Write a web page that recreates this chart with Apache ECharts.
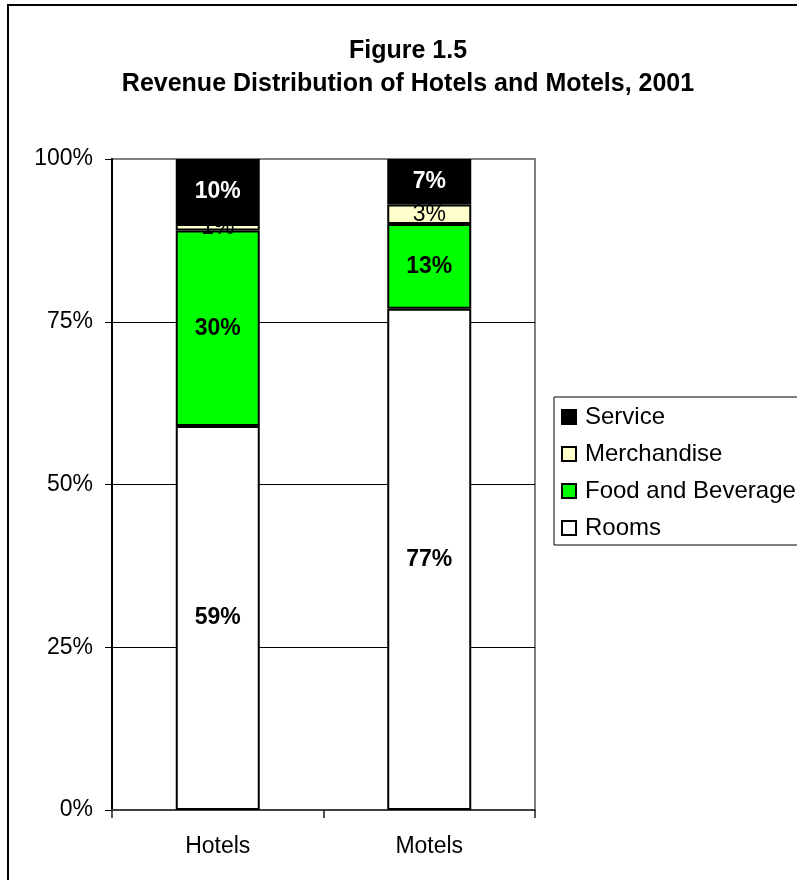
<!DOCTYPE html>
<html>
<head>
<meta charset="utf-8">
<script src="https://cdn.jsdelivr.net/npm/echarts@6/dist/echarts.min.js"></script>
<style>
  html, body { margin: 0; padding: 0; background: #fff; }
  #chart { width: 797px; height: 880px; }
</style>
</head>
<body>
<div id="chart"></div>
<script>
// Revenue shares (%) of hotels and motels by source, 2001
const categories = ['Hotels', 'Motels'];
const rooms = [59, 77];
const foodAndBeverage = [30, 13];
const merchandise = [1, 3];
const service = [10, 7];
const yTicks = [0, 25, 50, 75, 100];
const legendOrder = ['Service', 'Merchandise', 'Food and Beverage', 'Rooms'];

const FONT = '"Liberation Sans", Arial, sans-serif';

const chart = echarts.init(document.getElementById('chart'), null, { renderer: 'canvas' });

function barLabel(color, weight) {
  return {
    show: true,
    position: 'inside',
    formatter: '{c}%',
    color: color,
    fontFamily: FONT,
    fontWeight: weight,
    fontSize: 23
  };
}

const option = {
  backgroundColor: '#ffffff',
  animation: false,
  title: {
    text: 'Figure 1.5\nRevenue Distribution of Hotels and Motels, 2001',
    left: 403,
    top: 30,
    textAlign: 'center',
    textStyle: {
      fontFamily: FONT,
      fontWeight: 'bold',
      fontSize: 25,
      lineHeight: 33,
      color: '#000'
    }
  },
  graphic: [{
    type: 'rect',
    z: -10,
    silent: true,
    shape: { x: 8, y: 5, width: 900, height: 900 },
    style: { fill: 'transparent', stroke: '#000', lineWidth: 2 }
  }],
  legend: {
    orient: 'vertical',
    left: 554,
    top: 397,
    data: legendOrder,
    backgroundColor: '#fff',
    borderColor: '#000',
    borderWidth: 1,
    padding: [8, 12, 5, 7],
    itemWidth: 14,
    itemHeight: 14,
    itemGap: 13,
    icon: 'rect',
    textStyle: { fontFamily: FONT, fontSize: 24, color: '#000', padding: [0, 0, 0, 4] }
  },
  grid: {
    left: 112,
    right: 262,
    top: 159,
    bottom: 70,
    show: true,
    borderColor: '#808080',
    borderWidth: 2,
    backgroundColor: 'transparent'
  },
  xAxis: {
    type: 'category',
    data: categories,
    boundaryGap: true,
    axisLine: { show: true, lineStyle: { color: '#404040', width: 2 } },
    axisTick: { show: true, length: 8, inside: false, lineStyle: { color: '#202020', width: 1.5 } },
    axisLabel: { margin: 25, fontFamily: FONT, fontSize: 23, color: '#000' },
    splitLine: { show: false }
  },
  yAxis: {
    type: 'value',
    min: yTicks[0],
    max: yTicks[yTicks.length - 1],
    interval: 25,
    axisLine: { show: true, lineStyle: { color: '#000', width: 2 } },
    axisTick: { show: true, length: 7, inside: false, lineStyle: { color: '#000', width: 1 } },
    axisLabel: { margin: 19, formatter: '{value}%', fontFamily: FONT, fontSize: 23, color: '#000' },
    splitLine: {
      show: true,
      lineStyle: { color: ['#000', '#000', '#000', '#000', '#808080'], width: 1 }
    }
  },
  series: [
    {
      name: 'Rooms',
      type: 'bar',
      stack: 'total',
      barWidth: 84,
      data: rooms,
      itemStyle: { color: '#ffffff', borderColor: '#000', borderWidth: 2 },
      label: barLabel('#000', 'bold')
    },
    {
      name: 'Food and Beverage',
      type: 'bar',
      stack: 'total',
      data: foodAndBeverage,
      itemStyle: { color: '#00ff00', borderColor: '#000', borderWidth: 2 },
      label: barLabel('#000', 'bold')
    },
    {
      name: 'Merchandise',
      type: 'bar',
      stack: 'total',
      data: merchandise,
      itemStyle: { color: '#ffffcc', borderColor: '#000', borderWidth: 2 },
      label: barLabel('#000', 'normal')
    },
    {
      name: 'Service',
      type: 'bar',
      stack: 'total',
      data: service,
      itemStyle: { color: '#000000', borderColor: '#000', borderWidth: 2 },
      label: barLabel('#ffffff', 'bold')
    }
  ]
};

chart.setOption(option);
</script>
</body>
</html>
